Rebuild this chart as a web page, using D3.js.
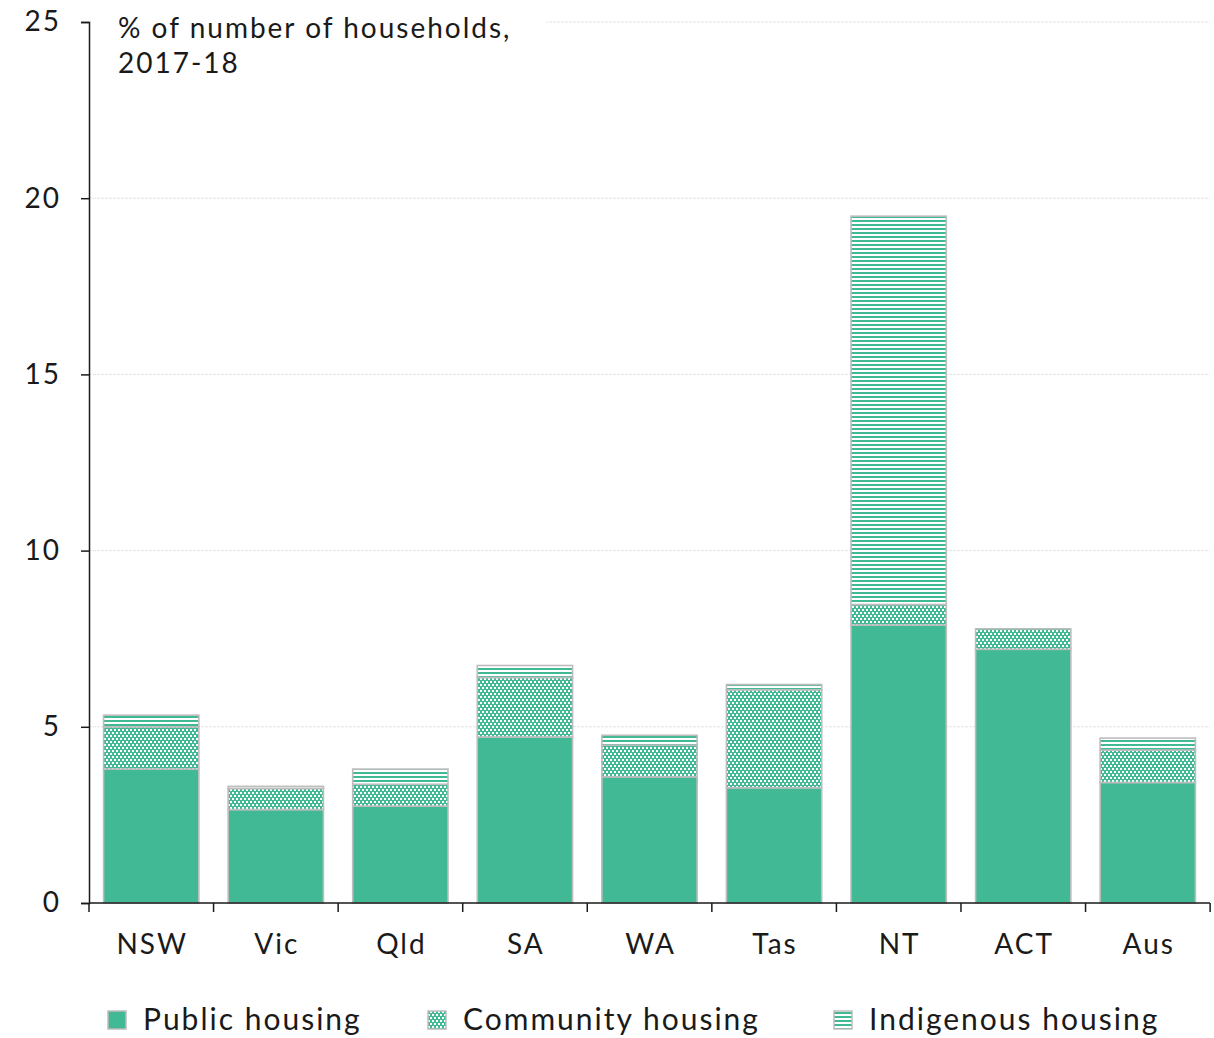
<!DOCTYPE html>
<html lang="en">
<head>
    <meta charset="UTF-8">
    <title>Social housing share of households, 2017-18</title>
    <script src="https://d3js.org/d3.v7.min.js"></script>
    <style>
        body {
            margin: 0;
            font-family: Lato, "DejaVu Sans", sans-serif;
            background: white;
        }

        svg text {
            font-family: Lato, "DejaVu Sans", sans-serif;
            letter-spacing: 2px;
        }
    </style>
</head>
<body>
    <svg id="vis" width="1214" height="1038"></svg>
    <script>
        const states = ["NSW", "Vic", "Qld", "SA", "WA", "Tas", "NT", "ACT", "Aus"];
        const publicHousing = [3.80, 2.65, 2.75, 4.71, 3.58, 3.27, 7.89, 7.20, 3.42];
        const communityHousing = [1.20, 0.60, 0.62, 1.69, 0.90, 2.78, 0.58, 0.58, 0.92];
        const indigenousHousing = [0.33, 0.06, 0.43, 0.34, 0.28, 0.15, 11.02, 0.0, 0.34];
        const series = ["Public housing", "Community housing", "Indigenous housing"];
        const yTicks = [0, 5, 10, 15, 20, 25];

        const green = "#42b995";
        const edge = "#bdbdbd";

        const svg = d3.select("#vis");
        const margin = { left: 89, right: 4, top: 22, bottom: 135 };
        const width = 1214, height = 1038;

        const defs = svg.append("defs");
        const dots = defs.append("pattern")
            .attr("id", "dots").attr("patternUnits", "userSpaceOnUse")
            .attr("width", 4).attr("height", 6);
        dots.append("rect").attr("width", 4).attr("height", 6).attr("fill", green);
        dots.append("rect").attr("x", 0).attr("y", 0).attr("width", 2).attr("height", 2).attr("fill", "white");
        dots.append("rect").attr("x", 2).attr("y", 3).attr("width", 2).attr("height", 2).attr("fill", "white");

        const stripes = defs.append("pattern")
            .attr("id", "stripes").attr("patternUnits", "userSpaceOnUse")
            .attr("width", 4).attr("height", 4);
        stripes.append("rect").attr("width", 4).attr("height", 4).attr("fill", "white");
        stripes.append("rect").attr("y", 0).attr("width", 4).attr("height", 2).attr("fill", green);

        const seriesFill = [green, "url(#dots)", "url(#stripes)"];

        const x = d3.scaleBand()
            .domain(states)
            .range([margin.left, width - margin.right])
            .paddingInner(0.235)
            .paddingOuter(0.117);

        const y = d3.scaleLinear()
            .domain([0, 25])
            .range([height - margin.bottom, margin.top]);

        // gridlines
        svg.append("g")
            .selectAll("line")
            .data(yTicks.filter(d => d > 0))
            .join("line")
            .attr("x1", margin.left)
            .attr("x2", width - margin.right)
            .attr("y1", d => y(d))
            .attr("y2", d => y(d))
            .attr("stroke", "#e3e3e3")
            .attr("stroke-width", 1)
            .attr("stroke-dasharray", "3,1");

        // stacked bars
        const rows = states.map((s, i) => ({
            state: s,
            values: [publicHousing[i], communityHousing[i], indigenousHousing[i]]
        }));
        const barLayer = svg.append("g");
        rows.forEach(r => {
            let base = 0;
            r.values.forEach((v, k) => {
                if (v > 0) {
                    barLayer.append("rect")
                        .attr("x", x(r.state))
                        .attr("width", x.bandwidth())
                        .attr("y", y(base + v))
                        .attr("height", y(base) - y(base + v))
                        .attr("fill", seriesFill[k])
                        .attr("stroke", edge)
                        .attr("stroke-width", 1.6);
                }
                base += v;
            });
        });

        // title box
        svg.append("rect")
            .attr("x", margin.left + 2).attr("y", 8)
            .attr("width", 455).attr("height", 75)
            .attr("fill", "white");
        const title = svg.append("text")
            .attr("x", 118).attr("y", 38)
            .attr("font-size", 28)
            .attr("fill", "#1a1a1a");
        title.append("tspan").attr("x", 118).text("% of number of households,");
        title.append("tspan").attr("x", 118).attr("dy", 35).text("2017-18");

        // y axis
        const yAxis = svg.append("g")
            .attr("transform", `translate(${margin.left},0)`)
            .call(d3.axisLeft(y).tickValues(yTicks).tickSize(8).tickPadding(20));
        yAxis.select(".domain").attr("stroke", "#1a1a1a").attr("stroke-width", 1.5);
        yAxis.selectAll(".tick line").attr("stroke", "#1a1a1a").attr("stroke-width", 1.5);
        yAxis.selectAll(".tick text")
            .attr("font-size", 28)
            .attr("font-family", null)
            .attr("fill", "#1a1a1a");

        // x axis with ticks at band edges
        const xAxisG = svg.append("g")
            .attr("transform", `translate(0,${y(0)})`);
        xAxisG.append("line")
            .attr("x1", margin.left).attr("x2", width - margin.right)
            .attr("stroke", "#1a1a1a").attr("stroke-width", 1.5);
        const step = x.step();
        const edges = d3.range(states.length + 1).map(i => margin.left + i * step);
        xAxisG.selectAll(".edge")
            .data(edges)
            .join("line")
            .attr("class", "edge")
            .attr("x1", d => d).attr("x2", d => d)
            .attr("y1", 0).attr("y2", 9)
            .attr("stroke", "#1a1a1a").attr("stroke-width", 1.5);
        xAxisG.selectAll(".lbl")
            .data(states)
            .join("text")
            .attr("class", "lbl")
            .attr("x", d => x(d) + x.bandwidth() / 2 + 1)
            .attr("y", 51)
            .attr("text-anchor", "middle")
            .attr("font-size", 28)
            .attr("fill", "#1a1a1a")
            .text(d => d);

        // legend
        const legendX = [108, 428, 834];
        const legend = svg.append("g");
        series.forEach((s, i) => {
            legend.append("rect")
                .attr("x", legendX[i]).attr("y", 1011)
                .attr("width", 18).attr("height", 18)
                .attr("fill", seriesFill[i])
                .attr("stroke", edge).attr("stroke-width", 1.5);
            legend.append("text")
                .attr("x", legendX[i] + 35).attr("y", 1030)
                .attr("font-size", 30)
                .attr("fill", "#1a1a1a")
                .text(s);
        });
    </script>
</body>
</html>
